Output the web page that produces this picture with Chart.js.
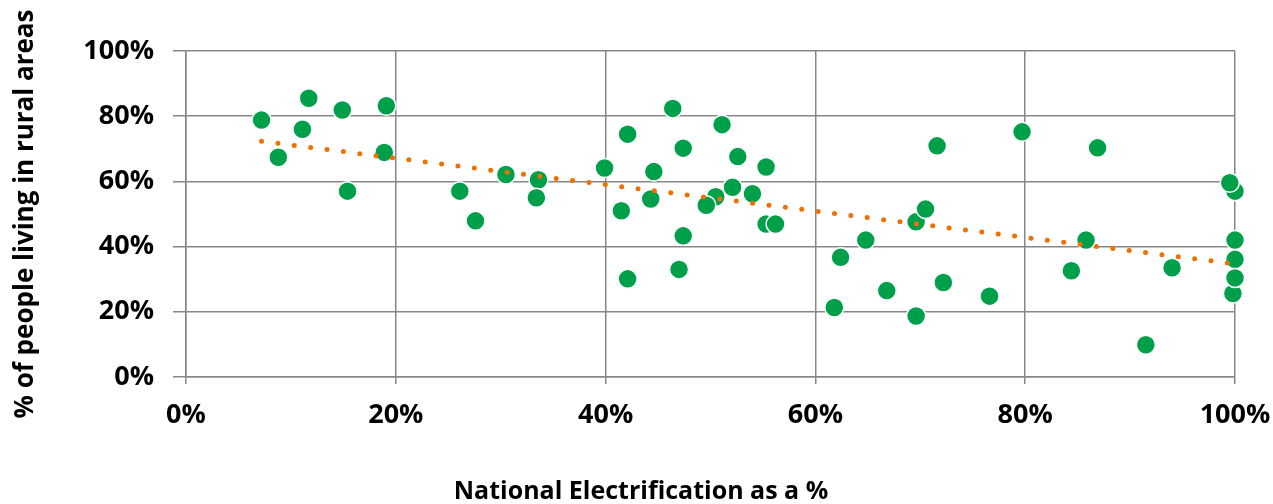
<!DOCTYPE html>
<html>
<head>
<meta charset="utf-8">
<script src="https://cdn.jsdelivr.net/npm/chart.js@4"></script>
<style>
  html, body { margin: 0; padding: 0; background: #fff; }
  #wrap { width: 1273px; height: 504px; }
</style>
</head>
<body>
<div id="wrap"><canvas id="graphOutputCanvas" width="1273" height="504"></canvas></div>
<script>
// national electrification (%) per country
var elecX = [7.2, 8.8, 11.7, 11.1, 14.9, 15.4, 19.1, 18.9, 26.1, 27.6, 30.5, 33.6, 33.4, 39.9,
    41.5, 42.1, 42.1, 46.4, 44.6, 44.3, 47.4, 47.4, 47.0, 51.1, 52.6, 55.3, 50.5, 49.6, 52.1, 54.0,
    55.3, 56.2, 62.4, 61.8, 64.8, 66.8, 69.6, 69.6, 70.5, 71.6, 72.2, 76.6, 79.7, 84.4, 85.8, 86.9,
    91.5, 94.0, 99.8, 100, 100, 100, 100, 99.5];
// share of people living in rural areas (%)
var ruralY = [78.8, 67.4, 85.5, 76.0, 81.9, 57.0, 83.2, 68.9, 57.0, 47.9, 62.1, 60.5, 55.0, 64.1,
    51.0, 74.5, 30.1, 82.4, 63.0, 54.6, 70.2, 43.3, 33.0, 77.4, 67.6, 64.4, 55.3, 52.7, 58.2, 56.2,
    46.9, 46.9, 36.7, 21.3, 42.0, 26.5, 18.7, 47.6, 51.5, 70.9, 29.0, 24.8, 75.2, 32.6, 42.0, 70.3,
    9.9, 33.5, 25.6, 36.1, 42.0, 30.4, 57.0, 59.6];
// linear trendline end points
var trendX = [7.2, 100];
var trendY = [72.3, 34.7];
var tickValues = [0, 20, 40, 60, 80, 100];

var fontName = "Open Sans";
var gridColor = "#878787";

function buildPoints(xs, ys){
    var pts = [];
    for(let i = 0; i < xs.length; i++){
        pts.push({x: xs[i], y: ys[i]});
    }
    return pts;
}

var currentChart = new Chart(document.getElementById("graphOutputCanvas"), {
    type: "scatter",
    data: {
        datasets: [{
            type: "line",
            data: buildPoints(trendX, trendY),
            borderColor: "#EF7000",
            borderWidth: 5,
            borderDash: [0, 16.5],
            borderCapStyle: "round",
            pointRadius: 0,
            fill: false,
            clip: false
        }, {
            data: buildPoints(elecX, ruralY),
            pointRadius: 9.5,
            pointHoverRadius: 9.5,
            backgroundColor: "#00A04B",
            borderColor: "#ffffff",
            borderWidth: 1.5,
            clip: false
        }]
    },
    options: {
        responsive: false,
        animation: false,
        layout: { padding: { left: 9, right: 0, top: 51, bottom: 0 } },
        plugins: {
            legend: { display: false },
            tooltip: { enabled: false },
            title: {
                display: true,
                position: "bottom",
                text: "National Electrification as a %",
                color: "#000",
                font: { family: fontName, size: 25, weight: "bold", lineHeight: 1 },
                padding: { top: 10, bottom: 0 }
            }
        },
        scales: {
            x: {
                type: "linear",
                min: 0,
                max: 100,
                afterBuildTicks: function(scale){
                    scale.ticks = tickValues.map(function(v){ return {value: v}; });
                },
                afterFit: function(scale){
                    scale.height = 92;
                    scale.paddingLeft = 0;
                    scale.paddingRight = 38;
                },
                ticks: {
                    color: "#000",
                    padding: 15,
                    font: { family: fontName, size: 27, weight: "bold" },
                    callback: function(v){ return v + "%"; }
                },
                grid: { color: gridColor, lineWidth: 1.5, tickLength: 7 },
                border: { color: gridColor, width: 1.5 }
            },
            y: {
                type: "linear",
                min: 0,
                max: 100,
                afterBuildTicks: function(scale){
                    scale.ticks = tickValues.map(function(v){ return {value: v}; });
                },
                afterFit: function(scale){ scale.width = 177; },
                ticks: {
                    color: "#000",
                    padding: 19,
                    font: { family: fontName, size: 27, weight: "bold" },
                    callback: function(v){ return v + "%"; }
                },
                title: {
                    display: true,
                    text: "% of people living in rural areas",
                    color: "#000",
                    font: { family: fontName, size: 26, weight: "bold", lineHeight: 1.2 },
                    padding: { top: 1, bottom: 0 }
                },
                grid: { color: gridColor, lineWidth: 1.5, tickLength: 13 },
                border: { color: gridColor, width: 1.5 }
            }
        }
    }
});
</script>
</body>
</html>
